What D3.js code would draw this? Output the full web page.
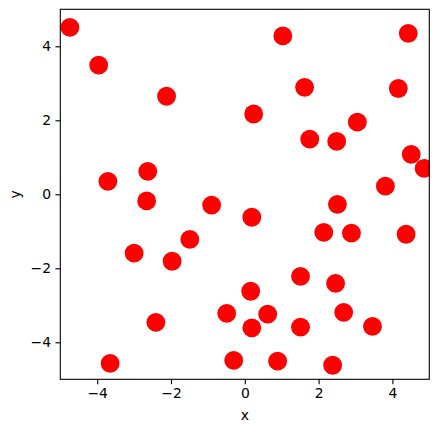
<!DOCTYPE html>
<html>
<head>
<meta charset="utf-8">
<script src="https://cdnjs.cloudflare.com/ajax/libs/d3/7.8.5/d3.min.js"></script>
<style>
  body { margin: 0; background: #fff; }
  svg { display: block; font-family: "DejaVu Sans", sans-serif; }
</style>
</head>
<body>
<script>
let xs = [-4.74, -3.96, -2.12, -3.71, -2.63, -2.66, -0.90,
  1.03, 4.43, 1.62, 4.16, 0.24, 3.05, 1.76, 2.49, 4.51, 4.86, 3.81, 2.51, 0.19,
  -1.49, -3.00, -1.97, -2.41, -3.65,
  2.14, 2.89, 4.37, 1.51, 2.46, 0.16, -0.49, 0.62, 2.68, 0.19, 1.51, 3.46, -0.30, 0.89, 2.38];
let ys = [4.51, 3.49, 2.65, 0.35, 0.62, -0.18, -0.29,
  4.28, 4.35, 2.89, 2.86, 2.17, 1.95, 1.49, 1.43, 1.08, 0.70, 0.22, -0.27, -0.62,
  -1.22, -1.59, -1.81, -3.46, -4.57,
  -1.03, -1.05, -1.08, -2.22, -2.41, -2.62, -3.22, -3.24, -3.19, -3.61, -3.59, -3.57, -4.49, -4.51, -4.62];
let xTicks = [-4, -2, 0, 2, 4];
let yTicks = [-4, -2, 0, 2, 4];

let width = 439, height = 432;
let margin = { top: 9.3, left: 60.3, right: 9.7, bottom: 52.7 };

let svg = d3.select("body").append("svg")
  .attr("width", width)
  .attr("height", height);

let scaleX = d3.scaleLinear().domain([-5, 5]).range([margin.left, width - margin.right]);
let scaleY = d3.scaleLinear().domain([-5, 5]).range([height - margin.bottom, margin.top]);

svg.append("defs").append("clipPath").attr("id", "clip")
  .append("rect")
  .attr("x", margin.left)
  .attr("y", margin.top)
  .attr("width", width - margin.left - margin.right)
  .attr("height", height - margin.top - margin.bottom);

let points = d3.zip(xs, ys);

svg.append("g").attr("clip-path", "url(#clip)")
  .selectAll("circle").data(points).enter().append("circle")
  .attr("cx", d => scaleX(d[0]))
  .attr("cy", d => scaleY(d[1]))
  .attr("r", 9.4)
  .attr("fill", "#ff0000");

let xAxis = svg.append("g")
  .attr("transform", "translate(0," + (height - margin.bottom) + ")")
  .call(d3.axisBottom(scaleX).tickValues(xTicks).tickSize(4.9).tickPadding(4.4).tickSizeOuter(0));
let yAxis = svg.append("g")
  .attr("transform", "translate(" + margin.left + ",0)")
  .call(d3.axisLeft(scaleY).tickValues(yTicks).tickSize(4.9).tickPadding(4.4).tickSizeOuter(0));

[xAxis, yAxis].forEach(a => {
  a.select(".domain").remove();
  a.selectAll("line").attr("stroke", "#000").attr("stroke-width", 1.1);
  a.selectAll("text").attr("font-size", "13.9px").attr("fill", "#000")
    .attr("font-family", "DejaVu Sans, sans-serif");
});

// frame
svg.append("rect")
  .attr("x", margin.left)
  .attr("y", margin.top)
  .attr("width", width - margin.left - margin.right)
  .attr("height", height - margin.top - margin.bottom)
  .attr("fill", "none")
  .attr("stroke", "#000")
  .attr("stroke-width", 1.1);

svg.append("text")
  .text("x")
  .attr("x", scaleX(0))
  .attr("y", 420)
  .attr("text-anchor", "middle")
  .attr("font-size", "13.9px");

svg.append("text")
  .text("y")
  .attr("transform", "translate(20," + scaleY(0) + ") rotate(-90)")
  .attr("text-anchor", "middle")
  .attr("font-size", "13.9px");
</script>
</body>
</html>
